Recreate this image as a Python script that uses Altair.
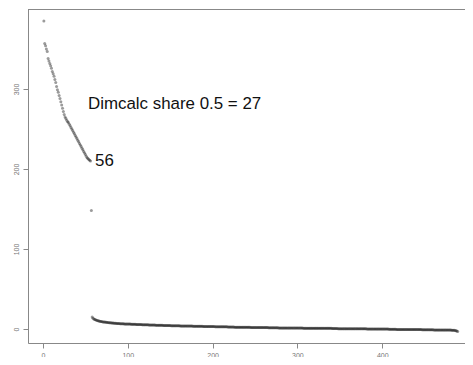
import altair as alt
import pandas as pd

# first (steep) segment, indices 1..56
head = [385, 357, 354, 350, 347, 338, 335, 332, 329, 326,
        322, 319, 316, 312, 308, 303, 299, 296, 292, 288,
        284, 280, 276, 272, 268, 265, 263, 261, 259, 258,
        256, 254, 252, 250, 248, 246, 244, 242, 240, 238,
        236, 234, 232, 230, 228, 226, 224, 222, 220, 218,
        216, 214, 213, 212, 211, 210]
# isolated point, index 57
gap = [148]
# long flat tail, indices 58..489
tail = [15, 13.5, 12.6, 12.0, 11.5, 11.0, 10.6, 10.3, 10.0, 9.7, 9.5, 9.3, 9.1,
        8.9, 8.7, 8.6, 8.4, 8.3, 8.1, 8.0, 7.9, 7.8, 7.7, 7.6, 7.5, 7.4, 7.3, 7.2, 7.1, 7.0, 6.9, 6.9, 6.8,
        6.7, 6.7, 6.6, 6.5, 6.5, 6.4, 6.4, 6.3, 6.3, 6.2, 6.2, 6.1, 6.1, 6.0, 6.0, 5.9, 5.9, 5.8, 5.8, 5.7,
        5.7, 5.6, 5.6, 5.6, 5.5, 5.5, 5.4, 5.4, 5.4, 5.3, 5.3, 5.2, 5.2, 5.2, 5.1, 5.1, 5.0, 5.0, 5.0, 4.9,
        4.9, 4.9, 4.8, 4.8, 4.8, 4.7, 4.7, 4.7, 4.6, 4.6, 4.6, 4.5, 4.5, 4.5, 4.4, 4.4, 4.4, 4.3, 4.3, 4.3,
        4.2, 4.2, 4.2, 4.2, 4.1, 4.1, 4.1, 4.0, 4.0, 4.0, 4.0, 3.9, 3.9, 3.9, 3.8, 3.8, 3.8, 3.8, 3.7, 3.7,
        3.7, 3.7, 3.6, 3.6, 3.6, 3.6, 3.5, 3.5, 3.5, 3.5, 3.4, 3.4, 3.4, 3.4, 3.3, 3.3, 3.3, 3.3, 3.2, 3.2,
        3.2, 3.2, 3.2, 3.1, 3.1, 3.1, 3.1, 3.0, 3.0, 3.0, 3.0, 3.0, 2.9, 2.9, 2.9, 2.9, 2.9, 2.8, 2.8, 2.8,
        2.8, 2.8, 2.7, 2.7, 2.7, 2.7, 2.7, 2.6, 2.6, 2.6, 2.4, 2.4, 2.4, 2.4, 2.4, 2.3, 2.3, 2.3, 2.3, 2.3,
        2.3, 2.2, 2.2, 2.2, 2.2, 2.2, 2.2, 2.1, 2.1, 2.1, 2.1, 2.1, 2.1, 2.1, 2.0, 2.0, 2.0, 2.0, 2.0, 2.0,
        1.9, 1.9, 1.9, 1.9, 1.9, 1.9, 1.9, 1.8, 1.8, 1.8, 1.8, 1.8, 1.8, 1.8, 1.8, 1.7, 1.7, 1.7, 1.7, 1.7,
        1.7, 1.7, 1.7, 1.7, 1.7, 1.7, 1.6, 1.3, 1.3, 1.3, 1.3, 1.3, 1.3, 1.3, 1.3, 1.2, 1.2, 1.2, 1.2, 1.2,
        1.2, 1.2, 1.2, 1.2, 1.2, 1.2, 1.1, 1.1, 1.1, 1.1, 1.1, 1.1, 1.1, 1.1, 1.1, 1.1, 1.0, 1.0, 1.0, 1.0,
        1.0, 1.0, 1.0, 1.0, 1.0, 1.0, 1.0, 0.9, 0.9, 0.9, 0.9, 0.9, 0.9, 0.9, 0.9, 0.9, 0.9, 0.9, 0.8, 0.8,
        0.8, 0.8, 0.8, 0.8, 0.8, 0.8, 0.8, 0.8, 0.8, 0.8, 0.7, 0.7, 0.7, 0.7, 0.7, 0.7, 0.7, 0.4, 0.4, 0.4,
        0.4, 0.4, 0.4, 0.4, 0.4, 0.4, 0.4, 0.3, 0.3, 0.3, 0.3, 0.3, 0.3, 0.3, 0.3, 0.3, 0.3, 0.3, 0.3, 0.2,
        0.2, 0.2, 0.2, 0.2, 0.2, 0.2, 0.2, 0.2, 0.2, 0.2, 0.2, 0.1, 0.1, 0.1, 0.1, 0.1, 0.1, 0.1, 0.1, 0.1,
        0.1, 0.1, 0.0, 0.0, 0.0, 0.0, 0.0, 0.0, 0.0, 0.0, 0.0, 0.0, 0.0, 0.0, 0.0, 0.0, -0.1, -0.4, -0.4, -0.4,
        -0.4, -0.4, -0.4, -0.4, -0.4, -0.4, -0.5, -0.5, -0.5, -0.5, -0.5, -0.5, -0.5, -0.5, -0.5, -0.5, -0.6, -0.6, -0.6, -0.6,
        -0.6, -0.6, -0.6, -0.6, -0.6, -0.6, -0.7, -0.7, -0.7, -0.7, -0.7, -0.7, -0.7, -0.7, -0.7, -0.7, -0.8, -0.8, -0.8, -0.8,
        -0.8, -0.8, -0.8, -0.8, -0.8, -0.8, -0.8, -0.8, -0.9, -0.9, -1.2, -1.2, -1.2, -1.2, -1.2, -1.2, -1.2, -1.2, -1.3, -1.3,
        -1.3, -1.3, -1.3, -1.3, -1.3, -1.3, -1.4, -1.4, -1.4, -1.4, -1.4, -1.5, -1.5, -1.6, -1.7, -1.9, -2.2, -2.6, -3.2]

values = head + gap + tail
index = list(range(1, len(values) + 1))

x_ticks = [0, 100, 200, 300, 400]
y_ticks = [0, 100, 200, 300]

df = pd.DataFrame({"i": index, "v": values})

labels = pd.DataFrame({
    "i": [53, 56],
    "v": [275, 204],
    "t": ["Dimcalc share 0.5 = 27", "56"],
})

W, H = 437, 334
xs = alt.Scale(domain=[-17.7, 497.6], nice=False, zero=False)
ys = alt.Scale(domain=[-17.5, 400], nice=False, zero=False)

axis_common = dict(grid=False, domain=True, domainColor="#888", domainWidth=1,
                   tickColor="#888", tickSize=5,
                   labelColor="#777", labelFontSize=7, labelFont="Liberation Sans",
                   title=None)

points = alt.Chart(df).mark_circle(size=9, color="#222", opacity=0.45).encode(
    x=alt.X("i:Q", scale=xs, axis=alt.Axis(values=x_ticks, labelPadding=3, **axis_common)),
    y=alt.Y("v:Q", scale=ys, axis=alt.Axis(values=y_ticks, labelAngle=270, labelAlign="center",
                                           labelBaseline="bottom", labelPadding=4, **axis_common)),
)

# top side of the frame box
frame_top = alt.Chart(pd.DataFrame({"k": [0]})).mark_rule(color="#888", strokeWidth=1).encode(
    x=alt.value(0), x2=alt.value(W), y=alt.value(0.5)
)

t1 = alt.Chart(labels.iloc[[0]]).mark_text(
    align="left", baseline="alphabetic", fontSize=16.9, font="Liberation Sans", color="#111"
).encode(x=alt.X("i:Q", scale=xs), y=alt.Y("v:Q", scale=ys), text="t:N")

t2 = alt.Chart(labels.iloc[[1]]).mark_text(
    align="left", baseline="alphabetic", dx=4.5, fontSize=16.9, font="Liberation Sans", color="#111"
).encode(x=alt.X("i:Q", scale=xs), y=alt.Y("v:Q", scale=ys), text="t:N")

chart = (frame_top + points + t1 + t2).properties(
    width=W, height=H,
    autosize=alt.AutoSizeParams(type="none"),
    padding={"left": 20, "top": 1, "right": 0, "bottom": 14},
).configure_view(stroke=None).configure(background="white")

chart.save("out.html", embed_options={"renderer": "svg", "actions": False})
